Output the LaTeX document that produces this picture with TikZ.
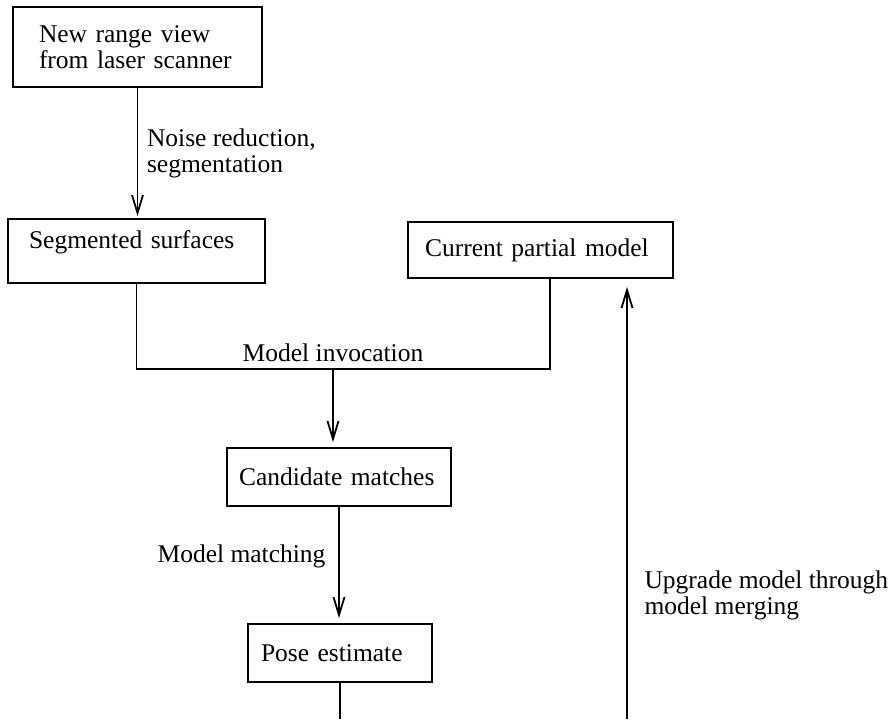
\documentclass[tikz,border=0pt]{standalone}
\usepackage{fontspec}
\setmainfont{Liberation Serif}
\usetikzlibrary{arrows.meta}

\begin{document}
\begin{tikzpicture}[x=0.5pt,y=-0.5pt,line width=0.9pt,
  font=\fontsize{12.75}{13}\selectfont,
  >={Straight Barb[length=9pt,width=5.5pt]},
  box/.style={draw,align=left,inner ysep=0pt},
  lbl/.style={align=left}]
\useasboundingbox (0,0) rectangle (892,719);

\node[box,inner xsep=13pt,text width=98.5pt,minimum height=40pt] (scan) at (137.5,47) {New range view\\from laser scanner};
\node[box,inner xsep=10.5pt,text width=107.5pt,minimum height=32pt,text depth=11pt] (segs) at (136.5,251) {Segmented surfaces};
\node[box,inner xsep=8.5pt,text width=115.5pt,minimum height=28pt] (model) at (540.5,250) {Current partial model};
\node[box,inner xsep=6pt,text width=100pt,minimum height=29pt] (cand) at (339,477) {Candidate matches};
\node[box,inner xsep=6.5pt,text width=79pt,minimum height=29pt] (pose) at (340,653) {Pose estimate};

\coordinate (join) at (333,369);
\coordinate (bottom) at (341,719);
\coordinate (back) at (627,719);

\draw[->,shorten >=1pt] (scan) -- (scan |- segs.north)
  node[lbl,right,midway,xshift=1pt] {Noise reduction,\\segmentation};
\draw (segs) |- (join) -| ([xshift=4.75pt]model.south);
\node[lbl,above] (invoc) at (join) {Model invocation};
\draw[->,shorten >=2.5pt] (join) -- (join |- cand.north);
\draw[->,shorten >=2.5pt] (cand) -- (cand |- pose.north)
  node[lbl,left,pos=0.43,xshift=-3pt] {Model matching};
\draw (pose) -- (pose |- bottom);
\draw[->,shorten >=4pt] (back) -- (back |- model.south)
  node[lbl,right,pos=0.28,xshift=5pt] {Upgrade model through\\model merging};

\end{tikzpicture}
\end{document}
